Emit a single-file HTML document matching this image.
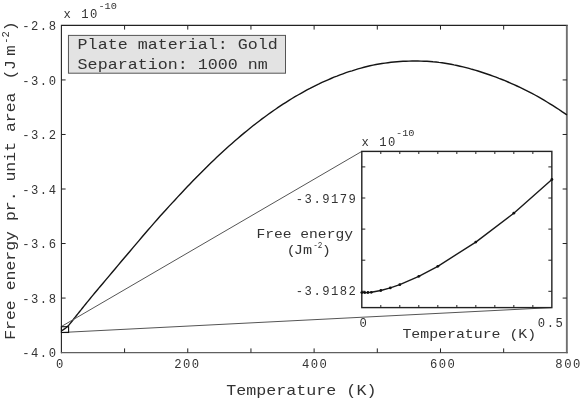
<!DOCTYPE html>
<html><head><meta charset="utf-8">
<style>
html,body{margin:0;padding:0;background:#fff;overflow:hidden;}
svg{display:block;position:absolute;left:0;top:0;will-change:transform;}
text{font-family:"Liberation Mono",monospace;fill:#333;}
</style></head><body>
<svg width="581" height="399" viewBox="0 0 581 399">
<rect width="581" height="399" fill="#fff"/>
<path d="M61.4 353.3V25.4H567.75" fill="none" stroke="#222" stroke-width="1.1"/>
<path d="M566.85 25.4V353.3" fill="none" stroke="#707070" stroke-width="1.9"/>
<path d="M60.9 352.6H567.75" fill="none" stroke="#606060" stroke-width="1.4"/>
<path d="M124.58 352.6v-4.2M124.58 25.4v4.2M187.76 352.6v-4.2M187.76 25.4v4.2M250.94 352.6v-4.2M250.94 25.4v4.2M314.12 352.6v-4.2M314.12 25.4v4.2M377.31 352.6v-4.2M377.31 25.4v4.2M440.49 352.6v-4.2M440.49 25.4v4.2M503.67 352.6v-4.2M503.67 25.4v4.2M61.4 79.93h4.2M566.85 79.93h-4.2M61.4 134.47h4.2M566.85 134.47h-4.2M61.4 189.00h4.2M566.85 189.00h-4.2M61.4 243.53h4.2M566.85 243.53h-4.2M61.4 298.07h4.2M566.85 298.07h-4.2" stroke="#222" stroke-width="1" fill="none"/>
<text x="57.48" y="30.1" font-size="12.2" letter-spacing="1.48" text-anchor="end">-2.8</text><text x="57.48" y="84.6" font-size="12.2" letter-spacing="1.48" text-anchor="end">-3.0</text><text x="57.48" y="139.2" font-size="12.2" letter-spacing="1.48" text-anchor="end">-3.2</text><text x="57.48" y="193.7" font-size="12.2" letter-spacing="1.48" text-anchor="end">-3.4</text><text x="57.48" y="248.2" font-size="12.2" letter-spacing="1.48" text-anchor="end">-3.6</text><text x="57.48" y="302.8" font-size="12.2" letter-spacing="1.48" text-anchor="end">-3.8</text><text x="57.48" y="357.3" font-size="12.2" letter-spacing="1.48" text-anchor="end">-4.0</text>
<text x="60.44" y="367.5" font-size="12.2" letter-spacing="1.48" text-anchor="middle">0</text><text x="187.44" y="367.5" font-size="12.2" letter-spacing="1.48" text-anchor="middle">200</text><text x="315.14" y="367.5" font-size="12.2" letter-spacing="1.48" text-anchor="middle">400</text><text x="443.24" y="367.5" font-size="12.2" letter-spacing="1.48" text-anchor="middle">600</text><text x="568.54" y="367.5" font-size="12.2" letter-spacing="1.48" text-anchor="middle">800</text>
<text x="63.60" y="17.6" font-size="12.2" letter-spacing="1.48" text-anchor="start">x 10</text>
<text transform="translate(98.4,8.6) scale(1.12,1)" font-size="9.2" text-anchor="start">-10</text>
<text transform="translate(301.3,394.6) scale(1.16,1)" font-size="14.4" text-anchor="middle">Temperature (K)</text>
<text transform="translate(14.6,339.8) rotate(-90) scale(1.146,1)" font-size="14.4">Free energy pr. unit area</text>
<text transform="translate(14.6,79.4) rotate(-90) scale(1.16,1)" font-size="14.4">(</text>
<text transform="translate(14.6,69.9) rotate(-90) scale(1.16,1)" font-size="14.4">J</text>
<text transform="translate(14.6,55.9) rotate(-90) scale(1.25,1)" font-size="14.4">m</text>
<text transform="translate(8.8,43.8) rotate(-90)" font-size="10.5">-2</text>
<text transform="translate(14.6,31.2) rotate(-90) scale(1.16,1)" font-size="14.4">)</text>
<rect x="68.45" y="35.4" width="217.05" height="37.8" fill="#e3e3e3" stroke="#555" stroke-width="1"/>
<text transform="translate(77.6,49.25) scale(1.16,1)" font-size="14.4" text-anchor="start">Plate material: Gold</text>
<text transform="translate(77.6,69.05) scale(1.16,1)" font-size="14.4" text-anchor="start">Separation: 1000 nm</text>
<path d="M61.5 330.8 L63.0 329.9 L64.5 328.9 L66.0 327.7 L67.5 326.4 L69.0 324.9 L70.5 323.1 L72.0 321.3 L73.5 319.3 L75.0 317.4 L76.5 315.5 L78.0 313.6 L79.5 311.7 L81.0 309.9 L82.5 308.0 L84.0 306.1 L85.5 304.3 L87.0 302.4 L88.5 300.6 L90.0 298.8 L91.5 296.9 L93.0 295.1 L94.5 293.3 L96.0 291.5 L97.5 289.7 L99.0 287.9 L100.0 286.7 L103.0 283.2 L106.0 279.6 L109.0 276.1 L112.0 272.5 L115.0 269.0 L118.0 265.4 L121.0 261.8 L124.0 258.3 L127.0 254.7 L130.0 251.2 L133.0 247.6 L136.0 244.1 L139.0 240.6 L142.0 237.0 L145.0 233.5 L148.0 230.0 L151.0 226.6 L154.0 223.1 L157.0 219.7 L160.0 216.3 L163.0 213.0 L166.0 209.7 L169.0 206.4 L172.0 203.1 L175.0 199.9 L178.0 196.6 L181.0 193.4 L184.0 190.2 L187.0 187.1 L190.0 183.9 L193.0 180.8 L196.0 177.7 L199.0 174.7 L202.0 171.7 L205.0 168.7 L208.0 165.7 L211.0 162.8 L214.0 159.9 L217.0 157.1 L220.0 154.3 L223.0 151.5 L226.0 148.8 L229.0 146.1 L232.0 143.4 L235.0 140.8 L238.0 138.2 L241.0 135.6 L244.0 133.1 L247.0 130.7 L250.0 128.2 L253.0 125.8 L256.0 123.5 L259.0 121.2 L262.0 118.9 L265.0 116.7 L268.0 114.5 L271.0 112.4 L274.0 110.3 L277.0 108.2 L280.0 106.2 L283.0 104.2 L286.0 102.3 L289.0 100.4 L292.0 98.5 L295.0 96.7 L298.0 95.0 L301.0 93.3 L304.0 91.6 L307.0 89.9 L310.0 88.4 L313.0 86.8 L316.0 85.3 L319.0 83.9 L322.0 82.4 L325.0 81.1 L328.0 79.8 L331.0 78.5 L334.0 77.2 L337.0 76.1 L340.0 74.9 L343.0 73.8 L346.0 72.7 L349.0 71.7 L352.0 70.8 L355.0 69.8 L358.0 68.9 L361.0 68.1 L364.0 67.3 L367.0 66.5 L370.0 65.8 L373.0 65.1 L376.0 64.5 L379.0 64.0 L382.0 63.5 L385.0 63.1 L388.0 62.7 L391.0 62.3 L394.0 62.0 L397.0 61.7 L400.0 61.5 L403.0 61.3 L406.0 61.2 L409.0 61.1 L412.0 61.0 L415.0 61.0 L418.0 61.0 L421.0 61.1 L424.0 61.2 L427.0 61.3 L430.0 61.5 L433.0 61.8 L436.0 62.0 L439.0 62.4 L442.0 62.7 L445.0 63.2 L448.0 63.7 L451.0 64.2 L454.0 64.9 L457.0 65.5 L460.0 66.2 L463.0 66.9 L466.0 67.6 L469.0 68.4 L472.0 69.3 L475.0 70.1 L478.0 71.0 L481.0 72.0 L484.0 73.0 L487.0 74.0 L490.0 75.0 L493.0 76.1 L496.0 77.2 L499.0 78.4 L502.0 79.5 L505.0 80.7 L508.0 82.0 L511.0 83.3 L514.0 84.6 L517.0 86.0 L520.0 87.4 L523.0 88.8 L526.0 90.3 L529.0 91.8 L532.0 93.4 L535.0 95.0 L538.0 96.7 L541.0 98.4 L544.0 100.2 L547.0 102.0 L550.0 103.8 L553.0 105.7 L556.0 107.6 L559.0 109.5 L562.0 111.6 L565.0 113.6 L566.9 114.9" fill="none" stroke="#151515" stroke-width="1.4" stroke-linejoin="round"/>
<path d="M61.4 326.5 L361.8 151.4 M61.4 332.5 L551.85 307.6" stroke="#555" stroke-width="1" fill="none"/>
<rect x="61.4" y="326.7" width="7.2" height="5.8" fill="none" stroke="#111" stroke-width="1.1"/>
<rect x="361.8" y="151.4" width="190.05" height="156.2" fill="#fff" stroke="#222" stroke-width="1.4"/>
<path d="M380.81 307.6v-2.6M380.81 151.4v2.6M399.81 307.6v-2.6M399.81 151.4v2.6M418.81 307.6v-2.6M418.81 151.4v2.6M437.82 307.6v-2.6M437.82 151.4v2.6M456.83 307.6v-2.6M456.83 151.4v2.6M475.83 307.6v-2.6M475.83 151.4v2.6M494.84 307.6v-2.6M494.84 151.4v2.6M513.84 307.6v-2.6M513.84 151.4v2.6M532.85 307.6v-2.6M532.85 151.4v2.6M361.8 166.90h3.5M551.85 166.90h-3.5M361.8 198.00h3.5M551.85 198.00h-3.5M361.8 229.10h3.5M551.85 229.10h-3.5M361.8 260.20h3.5M551.85 260.20h-3.5M361.8 291.30h3.5M551.85 291.30h-3.5" stroke="#222" stroke-width="1" fill="none"/>
<path d="M361.8 292.6 L364.8 292.6 L367.9 292.5 L371.3 292.3 L380.8 290.5 L390.3 287.9 L399.8 284.7 L418.8 276.3 L437.8 266.3 L475.8 242.1 L513.8 213.2 L551.9 179.5" fill="none" stroke="#1a1a1a" stroke-width="1.4" stroke-linejoin="round"/>
<g fill="#111"><circle cx="361.8" cy="292.6" r="1.4"/><circle cx="364.8" cy="292.6" r="1.4"/><circle cx="367.9" cy="292.5" r="1.4"/><circle cx="371.3" cy="292.3" r="1.4"/><circle cx="380.8" cy="290.5" r="1.4"/><circle cx="390.3" cy="287.9" r="1.4"/><circle cx="399.8" cy="284.7" r="1.4"/><circle cx="418.8" cy="276.3" r="1.4"/><circle cx="437.8" cy="266.3" r="1.4"/><circle cx="475.8" cy="242.1" r="1.4"/><circle cx="513.8" cy="213.2" r="1.4"/><circle cx="551.9" cy="179.5" r="1.4"/></g>
<text x="361.60" y="145.5" font-size="12.2" letter-spacing="1.48" text-anchor="start">x 10</text>
<text transform="translate(396.0,136.0) scale(1.12,1)" font-size="9.2" text-anchor="start">-10</text>
<text x="357.38" y="202.6" font-size="12.2" letter-spacing="1.48" text-anchor="end">-3.9179</text>
<text x="357.38" y="295.4" font-size="12.2" letter-spacing="1.48" text-anchor="end">-3.9182</text>
<text x="363.94" y="326.7" font-size="12.2" letter-spacing="1.48" text-anchor="middle">0</text>
<text x="551.04" y="326.7" font-size="12.2" letter-spacing="1.48" text-anchor="middle">0.5</text>
<text transform="translate(469.3,338.1) scale(1.22,1)" font-size="12.2" text-anchor="middle">Temperature (K)</text>
<text transform="translate(304.7,237.6) scale(1.2,1)" font-size="12.2" text-anchor="middle">Free energy</text>
<text transform="translate(286.8,253.8) scale(1.2,1)" font-size="12.2" text-anchor="start">(</text>
<text transform="translate(293.8,253.8) scale(1.25,1)" font-size="12.2" text-anchor="start">Jm</text>
<text transform="translate(313.2,248.4) scale(0.85,1)" font-size="9">-2</text>
<text transform="translate(322.0,253.8) scale(1.2,1)" font-size="12.2" text-anchor="start">)</text>
</svg>
</body></html>
